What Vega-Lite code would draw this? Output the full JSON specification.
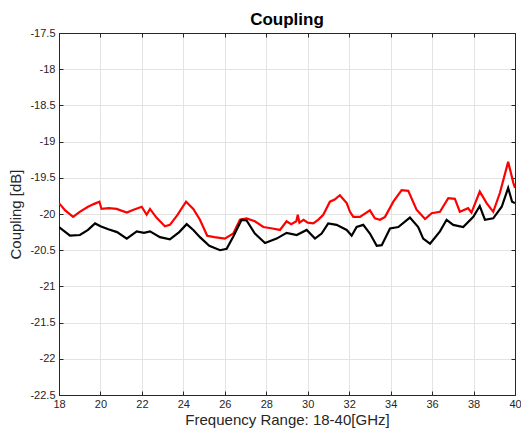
{
  "$schema": "https://vega.github.io/schema/vega-lite/v6.json",
  "autosize": "none",
  "width": 456,
  "height": 362,
  "padding": {"left": 59, "top": 33, "right": 6, "bottom": 39},
  "background": "white",
  "title": {"text": "Coupling", "font": "Liberation Sans", "fontSize": 17, "fontWeight": "bold", "color": "#000000", "offset": -2, "anchor": "middle"},
  "config": {
    "view": {"stroke": "#262626", "strokeWidth": 1},
    "axis": {
      "labelFont": "Liberation Sans", "labelFontSize": 11, "labelColor": "#262626", "labelFlush": false,
      "titleFont": "Liberation Sans", "titleFontSize": 15, "titleFontWeight": "normal", "titleColor": "#262626",
      "domainColor": "#262626", "tickColor": "#262626", "tickSize": -4,
      "gridColor": "#e3e3e3", "gridWidth": 1
    }
  },
  "datasets": {
    "d": [
      {"f": 18.0, "v": -19.85, "s": "red"},
      {"f": 18.3, "v": -19.95, "s": "red"},
      {"f": 18.68, "v": -20.04, "s": "red"},
      {"f": 19.0, "v": -19.97, "s": "red"},
      {"f": 19.4, "v": -19.9, "s": "red"},
      {"f": 19.7, "v": -19.86, "s": "red"},
      {"f": 19.95, "v": -19.83, "s": "red"},
      {"f": 20.05, "v": -19.93, "s": "red"},
      {"f": 20.4, "v": -19.92, "s": "red"},
      {"f": 20.78, "v": -19.93, "s": "red"},
      {"f": 21.27, "v": -19.98, "s": "red"},
      {"f": 21.6, "v": -19.94, "s": "red"},
      {"f": 21.99, "v": -19.9, "s": "red"},
      {"f": 22.23, "v": -20.01, "s": "red"},
      {"f": 22.39, "v": -19.93, "s": "red"},
      {"f": 22.7, "v": -20.05, "s": "red"},
      {"f": 23.11, "v": -20.17, "s": "red"},
      {"f": 23.35, "v": -20.15, "s": "red"},
      {"f": 23.7, "v": -20.02, "s": "red"},
      {"f": 24.13, "v": -19.83, "s": "red"},
      {"f": 24.48, "v": -19.93, "s": "red"},
      {"f": 24.8, "v": -20.08, "s": "red"},
      {"f": 25.15, "v": -20.3, "s": "red"},
      {"f": 25.5, "v": -20.32, "s": "red"},
      {"f": 26.0, "v": -20.34, "s": "red"},
      {"f": 26.41, "v": -20.27, "s": "red"},
      {"f": 26.73, "v": -20.08, "s": "red"},
      {"f": 27.05, "v": -20.06, "s": "red"},
      {"f": 27.45, "v": -20.1, "s": "red"},
      {"f": 27.86, "v": -20.18, "s": "red"},
      {"f": 28.3, "v": -20.2, "s": "red"},
      {"f": 28.66, "v": -20.22, "s": "red"},
      {"f": 28.98, "v": -20.1, "s": "red"},
      {"f": 29.2, "v": -20.14, "s": "red"},
      {"f": 29.45, "v": -20.1, "s": "red"},
      {"f": 29.52, "v": -20.01, "s": "red"},
      {"f": 29.6, "v": -20.12, "s": "red"},
      {"f": 29.8, "v": -20.08, "s": "red"},
      {"f": 30.0, "v": -20.12, "s": "red"},
      {"f": 30.27, "v": -20.13, "s": "red"},
      {"f": 30.5, "v": -20.08, "s": "red"},
      {"f": 30.75, "v": -20.01, "s": "red"},
      {"f": 31.07, "v": -19.83, "s": "red"},
      {"f": 31.3, "v": -19.8, "s": "red"},
      {"f": 31.55, "v": -19.74, "s": "red"},
      {"f": 31.88, "v": -19.85, "s": "red"},
      {"f": 32.04, "v": -19.97, "s": "red"},
      {"f": 32.2, "v": -20.04, "s": "red"},
      {"f": 32.52, "v": -20.04, "s": "red"},
      {"f": 33.0, "v": -19.95, "s": "red"},
      {"f": 33.24, "v": -20.06, "s": "red"},
      {"f": 33.49, "v": -20.08, "s": "red"},
      {"f": 33.73, "v": -20.04, "s": "red"},
      {"f": 34.13, "v": -19.83, "s": "red"},
      {"f": 34.53, "v": -19.67, "s": "red"},
      {"f": 34.85, "v": -19.68, "s": "red"},
      {"f": 35.25, "v": -19.94, "s": "red"},
      {"f": 35.66, "v": -20.07, "s": "red"},
      {"f": 35.98, "v": -19.99, "s": "red"},
      {"f": 36.38, "v": -19.97, "s": "red"},
      {"f": 36.78, "v": -19.78, "s": "red"},
      {"f": 37.1, "v": -19.79, "s": "red"},
      {"f": 37.34, "v": -19.97, "s": "red"},
      {"f": 37.74, "v": -19.92, "s": "red"},
      {"f": 37.9, "v": -19.98, "s": "red"},
      {"f": 38.3, "v": -19.69, "s": "red"},
      {"f": 38.63, "v": -19.85, "s": "red"},
      {"f": 38.95, "v": -19.97, "s": "red"},
      {"f": 39.27, "v": -19.71, "s": "red"},
      {"f": 39.67, "v": -19.28, "s": "red"},
      {"f": 39.92, "v": -19.57, "s": "red"},
      {"f": 40.0, "v": -19.64, "s": "red"},
      {"f": 18.0, "v": -20.18, "s": "black"},
      {"f": 18.53, "v": -20.3, "s": "black"},
      {"f": 19.01, "v": -20.29, "s": "black"},
      {"f": 19.4, "v": -20.22, "s": "black"},
      {"f": 19.74, "v": -20.13, "s": "black"},
      {"f": 20.0, "v": -20.17, "s": "black"},
      {"f": 20.38, "v": -20.21, "s": "black"},
      {"f": 20.8, "v": -20.25, "s": "black"},
      {"f": 21.27, "v": -20.34, "s": "black"},
      {"f": 21.75, "v": -20.24, "s": "black"},
      {"f": 22.1, "v": -20.26, "s": "black"},
      {"f": 22.39, "v": -20.24, "s": "black"},
      {"f": 22.87, "v": -20.32, "s": "black"},
      {"f": 23.35, "v": -20.35, "s": "black"},
      {"f": 23.8, "v": -20.25, "s": "black"},
      {"f": 24.16, "v": -20.14, "s": "black"},
      {"f": 24.48, "v": -20.22, "s": "black"},
      {"f": 24.8, "v": -20.32, "s": "black"},
      {"f": 25.25, "v": -20.44, "s": "black"},
      {"f": 25.77, "v": -20.5, "s": "black"},
      {"f": 26.09, "v": -20.48, "s": "black"},
      {"f": 26.41, "v": -20.31, "s": "black"},
      {"f": 26.81, "v": -20.08, "s": "black"},
      {"f": 27.05, "v": -20.09, "s": "black"},
      {"f": 27.45, "v": -20.27, "s": "black"},
      {"f": 27.94, "v": -20.4, "s": "black"},
      {"f": 28.5, "v": -20.34, "s": "black"},
      {"f": 28.98, "v": -20.26, "s": "black"},
      {"f": 29.47, "v": -20.29, "s": "black"},
      {"f": 29.95, "v": -20.22, "s": "black"},
      {"f": 30.35, "v": -20.34, "s": "black"},
      {"f": 30.67, "v": -20.27, "s": "black"},
      {"f": 30.99, "v": -20.13, "s": "black"},
      {"f": 31.39, "v": -20.15, "s": "black"},
      {"f": 31.88, "v": -20.22, "s": "black"},
      {"f": 32.12, "v": -20.3, "s": "black"},
      {"f": 32.36, "v": -20.18, "s": "black"},
      {"f": 32.68, "v": -20.15, "s": "black"},
      {"f": 33.0, "v": -20.27, "s": "black"},
      {"f": 33.33, "v": -20.44, "s": "black"},
      {"f": 33.57, "v": -20.43, "s": "black"},
      {"f": 33.97, "v": -20.2, "s": "black"},
      {"f": 34.37, "v": -20.18, "s": "black"},
      {"f": 34.93, "v": -20.05, "s": "black"},
      {"f": 35.33, "v": -20.18, "s": "black"},
      {"f": 35.57, "v": -20.34, "s": "black"},
      {"f": 35.9, "v": -20.41, "s": "black"},
      {"f": 36.38, "v": -20.24, "s": "black"},
      {"f": 36.7, "v": -20.08, "s": "black"},
      {"f": 37.02, "v": -20.15, "s": "black"},
      {"f": 37.5, "v": -20.18, "s": "black"},
      {"f": 37.99, "v": -20.04, "s": "black"},
      {"f": 38.3, "v": -19.89, "s": "black"},
      {"f": 38.55, "v": -20.08, "s": "black"},
      {"f": 38.95, "v": -20.06, "s": "black"},
      {"f": 39.36, "v": -19.9, "s": "black"},
      {"f": 39.67, "v": -19.64, "s": "black"},
      {"f": 39.86, "v": -19.83, "s": "black"},
      {"f": 40.0, "v": -19.85, "s": "black"}
    ]
  },
  "data": {"name": "d"},
  "layer": [
    {
      "mark": {"type": "line", "strokeWidth": 2.2, "clip": true},
      "encoding": {
        "x": {"field": "f", "type": "quantitative", "scale": {"domain": [18, 40], "nice": false, "zero": false},
              "axis": {"orient": "bottom", "values": [18, 20, 22, 24, 26, 28, 30, 32, 34, 36, 38, 40], "title": "Frequency Range: 18-40[GHz]", "labelPadding": 7, "titlePadding": 3}},
        "y": {"field": "v", "type": "quantitative", "scale": {"domain": [-22.5, -17.5], "nice": false, "zero": false},
              "axis": {"orient": "left", "values": [-22.5, -22, -21.5, -21, -20.5, -20, -19.5, -19, -18.5, -18, -17.5], "labelExpr": "toString(datum.value)", "title": "Coupling [dB]", "labelPadding": 8, "titlePadding": 6}},
        "color": {"field": "s", "type": "nominal", "scale": {"domain": ["red", "black"], "range": ["#ff0000", "#000000"]}, "legend": null},
        "detail": {"field": "s"}
      }
    },
    {
      "mark": {"type": "line", "opacity": 0},
      "encoding": {
        "x": {"field": "f", "type": "quantitative", "scale": {"domain": [18, 40], "nice": false, "zero": false},
              "axis": {"orient": "top", "values": [18, 20, 22, 24, 26, 28, 30, 32, 34, 36, 38, 40], "labels": false, "grid": false, "title": null}},
        "y": {"field": "v", "type": "quantitative", "scale": {"domain": [-22.5, -17.5], "nice": false, "zero": false},
              "axis": {"orient": "right", "values": [-22.5, -22, -21.5, -21, -20.5, -20, -19.5, -19, -18.5, -18, -17.5], "labels": false, "grid": false, "title": null}},
        "detail": {"field": "s"}
      }
    }
  ],
  "resolve": {"axis": {"x": "independent", "y": "independent"}}
}
